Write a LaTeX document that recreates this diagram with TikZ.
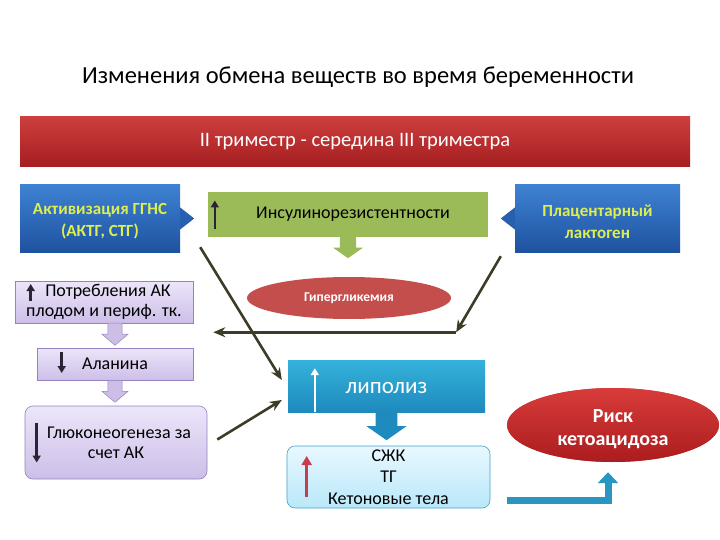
\documentclass[tikz,border=0pt]{standalone}
\usepackage{fontspec}
\setmainfont{Carlito}
\usetikzlibrary{shapes.geometric, arrows.meta, positioning, calc}
\definecolor{banA}{RGB}{205,62,62}
\definecolor{banB}{RGB}{165,30,32}
\definecolor{bluA}{RGB}{62,130,210}
\definecolor{bluB}{RGB}{30,82,160}
\definecolor{yeltxt}{RGB}{222,238,80}
\definecolor{insgreen}{RGB}{155,187,89}
\definecolor{lavA}{RGB}{236,230,250}
\definecolor{lavB}{RGB}{205,190,232}
\definecolor{lavline}{RGB}{150,130,190}
\definecolor{hypred}{RGB}{196,78,76}
\definecolor{riskA}{RGB}{215,60,58}
\definecolor{riskB}{RGB}{172,28,30}
\definecolor{lipA}{RGB}{52,178,218}
\definecolor{lipB}{RGB}{30,138,190}
\definecolor{ketA}{RGB}{232,248,255}
\definecolor{ketB}{RGB}{185,232,250}
\definecolor{ketline}{RGB}{70,160,200}
\definecolor{conclr}{RGB}{62,60,38}
\definecolor{darkarr}{RGB}{45,35,55}
\definecolor{redarr}{RGB}{200,60,80}
\definecolor{elbclr}{RGB}{40,150,192}
\newcommand{\lowtxt}[2]{\raisebox{-#1}[\height][\depth]{#2}}
\tikzset{
  banner/.style={rectangle, top color=banA, bottom color=banB,
    minimum width=670, minimum height=50, text=white,
    font=\fontsize{20.5}{24}\selectfont},
  bluebox/.style={rectangle, top color=bluA, bottom color=bluB,
    minimum height=67, align=center, text=yeltxt,
    font=\bfseries\fontsize{17}{22}\selectfont},
  greenbox/.style={rectangle, fill=insgreen, minimum width=280,
    minimum height=45, font=\fontsize{18}{21}\selectfont},
  lavbox/.style={rectangle, top color=lavA, bottom color=lavB,
    draw=lavline, line width=0.6pt, align=center,
    font=\fontsize{18}{20}\selectfont},
  redoval/.style={ellipse, fill=hypred, text=white, align=center,
    font=\bfseries\fontsize{13.5}{16}\selectfont},
  lipbox/.style={rectangle, top color=lipA, bottom color=lipB,
    minimum width=197, minimum height=52, text=white,
    font=\fontsize{23}{26}\selectfont},
  ketbox/.style={rectangle, rounded corners=8pt, top color=ketA,
    bottom color=ketB, draw=ketline, line width=0.6pt,
    minimum width=203, minimum height=62, align=center,
    font=\fontsize{18}{21.5}\selectfont},
  conn/.style={-{Stealth[length=12pt,width=10pt]}, line width=2.6pt, draw=conclr},
  smallarr/.style={-{Triangle[length=7pt,width=8pt]}, line width=2.6pt},
  blockdn/.pic={\path[pic actions] (-0.27,0) -- (0.27,0) -- (0.27,0.5)
    -- (0.5,0.5) -- (0,1) -- (-0.5,0.5) -- (-0.27,0.5) -- cycle;}
}
\begin{document}
\begin{tikzpicture}[x=1pt, y=-1pt]
  \useasboundingbox (0,0) rectangle (720,540);

  % Title and period banner
  \node[font=\fontsize{24.5}{28}\selectfont] (title) at (358,77)
    {Изменения обмена веществ во время беременности};
  \node[banner] (tri) at (355,142) {II триместр - середина III триместра};

  % Hormonal row
  \node[bluebox, minimum width=160] (act) at (100,218.5)
    {\lowtxt{3pt}{Активизация ГГНС}\\\lowtxt{3pt}{(АКТГ, СТГ)}};
  \fill[bluB!70!bluA] ($(act.east)+(0,-11)$) -- ($(act.east)+(14,0)$)
    -- ($(act.east)+(0,11)$) -- cycle;
  \node[greenbox] (ins) at (348,214.5) {\hspace*{10pt}Инсулинорезистентности};
  \draw[smallarr, darkarr] ($(ins.west)+(7,15)$) -- ++(0,-29);
  \node[bluebox, minimum width=165] (plac) at (597.5,218.5)
    {\lowtxt{3pt}{Плацентарный}\\\lowtxt{3pt}{лактоген}};
  \fill[bluB!70!bluA] ($(plac.west)+(0,-11)$) -- ($(plac.west)+(-14,0)$)
    -- ($(plac.west)+(0,11)$) -- cycle;
  \pic[fill=insgreen, xscale=30, yscale=21] at (ins.south) {blockdn};

  % Hyperglycaemia
  \node[redoval, minimum width=204, minimum height=42] (hyp) at (349,298)
    {Гипергликемия};

  % Amino acid chain
  \node[lavbox, minimum width=178, minimum height=40] (potr) at (104,302)
    {\hspace*{8pt}Потребления АК\\плодом и периф. тк.};
  \draw[smallarr, darkarr] ($(potr.west)+(16,-1)$) -- ++(0,-17);
  \node[lavbox, minimum width=156, minimum height=32] (alan) at (115,364)
    {Аланина};
  \draw[smallarr, darkarr] ($(alan.west)+(25,-12)$) -- ++(0,21);
  \node[lavbox, rounded corners=8pt, minimum width=182, minimum height=73]
    (gluk) at (116,442.5) {\hspace*{6pt}Глюконеогенеза за\\счет АК};
  \draw[smallarr, darkarr] ($(gluk.west)+(12,-20)$) -- ++(0,40);
  \pic[fill=lavB, draw=lavline, line width=0.5pt, xscale=26, yscale=22]
    at (alan.north |- potr.south) {blockdn};
  \pic[fill=lavB, draw=lavline, line width=0.5pt, xscale=26, yscale=22]
    at (alan.south) {blockdn};

  % Lipid chain
  \node[lipbox] (lip) at (386.5,386) {\lowtxt{2pt}{липолиз}};
  \draw[smallarr, white] ($(lip.south west)+(27,0)$) -- ++(0,-44);
  \pic[fill=lipB, xscale=40, yscale=28] at (lip.south) {blockdn};
  \node[ketbox] (ket) at (388.5,477) {СЖК\\ТГ\\Кетоновые тела};
  \draw[-{Triangle[length=9pt,width=10pt]}, line width=3.2pt, redarr]
    ($(ket.west)+(20,20)$) -- ++(0,-41);
  \node[redoval, top color=riskA, bottom color=riskB,
    font=\bfseries\fontsize{20}{23}\selectfont,
    minimum width=212, minimum height=74] (risk) at (613,425)
    {\lowtxt{4pt}{Риск}\\\lowtxt{4pt}{кетоацидоза}};

  % Connections
  \coordinate (jn) at ($(hyp.east |- potr.south)+(5,9)$);
  \coordinate (hypend) at ($(potr.south east)+(20,9)$);
  \draw[conn] ($(plac.south west)+(-14,4)$) -- (jn);
  \draw[conn] (jn) -- (hypend);
  \draw[conn] ($(act.south east)+(20,-5)$) -- ($(lip.west)+(-6,-6)$);
  \draw[conn] ($(gluk.east)+(10,-3)$) -- ($(lip.west)+(-6,14)$);
  \draw[-{Triangle[length=11pt,width=20pt]}, line width=7pt, elbclr]
    ($(ket.east)+(17,23)$) -| ($(risk.south)+(-5,10)$);
\end{tikzpicture}
\end{document}
